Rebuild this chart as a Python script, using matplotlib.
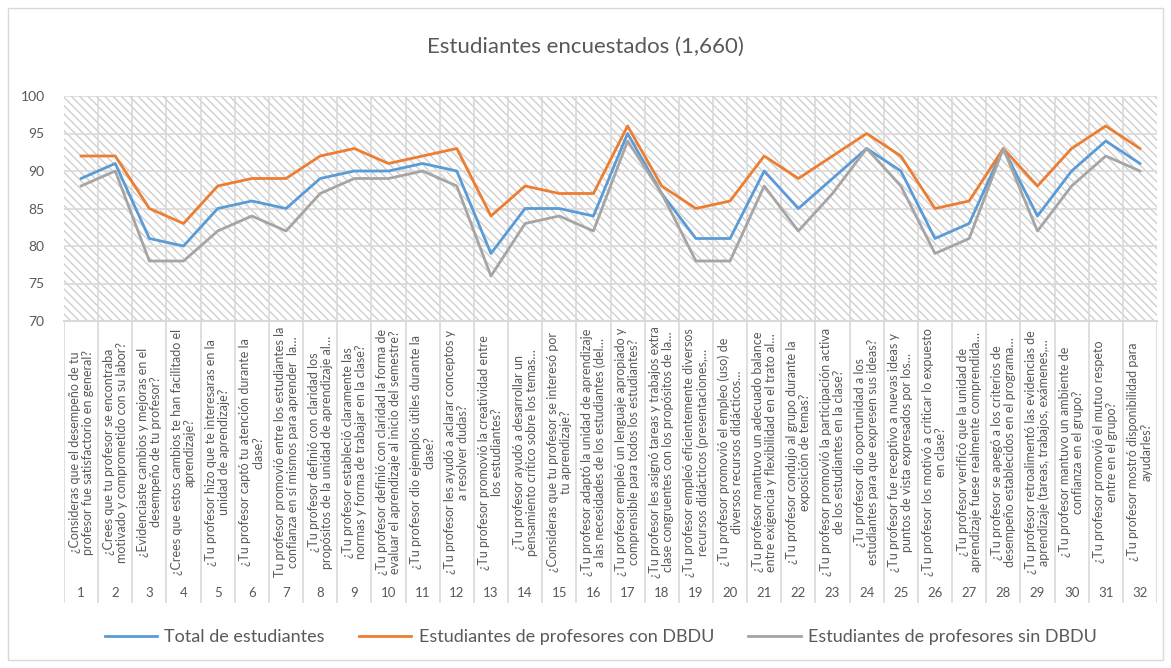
import matplotlib.pyplot as plt
from matplotlib.patches import Rectangle

plt.rcParams['font.family'] = ['Lato', 'DejaVu Sans']
plt.rcParams['hatch.linewidth'] = 1.0

# Datos
preguntas = [
    "¿Consideras que el desempeño de tu\nprofesor fue satisfactorio en general?",
    "¿Crees que tu profesor se encontraba\nmotivado y comprometido con su labor?",
    "¿Evidenciaste cambios y mejoras en el\ndesempeño de tu profesor?",
    "¿Crees que estos cambios te han facilitado el\naprendizaje?",
    "¿Tu profesor hizo que te interesaras en la\nunidad de aprendizaje?",
    "¿Tu profesor captó tu atención durante la\nclase?",
    "Tu profesor promovió entre los estudiantes la\nconfianza en sí mismos para aprender  la…",
    "¿Tu profesor definió con claridad los\npropósitos de la unidad de aprendizaje al…",
    "¿Tu profesor estableció claramente las\nnormas y forma de trabajar en la clase?",
    "¿Tu profesor definió con claridad la forma de\nevaluar el aprendizaje al inicio del semestre?",
    "¿Tu profesor dio ejemplos útiles durante la\nclase?",
    "¿Tu profesor les ayudó a aclarar conceptos y\na resolver dudas?",
    "¿Tu profesor promovió la creatividad entre\nlos estudiantes?",
    "¿Tu profesor ayudó a desarrollar un\npensamiento crítico sobre los temas…",
    "¿Consideras que tu profesor se interesó por\ntu aprendizaje?",
    "¿Tu profesor adaptó la unidad de aprendizaje\na las necesidades de los estudiantes (del…",
    "¿Tu profesor empleó un lenguaje apropiado y\ncomprensible para todos los estudiantes?",
    "¿Tu profesor les asignó tareas y trabajos extra\nclase congruentes con los propósitos de la…",
    "¿Tu profesor empleó eficientemente diversos\nrecursos didácticos (presentaciones,…",
    "¿Tu profesor promovió el empleo (uso) de\ndiversos recursos didácticos…",
    "¿Tu profesor mantuvo un adecuado balance\nentre exigencia y flexibilidad en el trato al…",
    "¿Tu profesor condujo al grupo durante la\nexposición de temas?",
    "¿Tu profesor promovió la participación activa\nde los estudiantes en la clase?",
    "¿Tu profesor dio oportunidad a los\nestudiantes para que expresen sus ideas?",
    "¿Tu profesor fue receptivo a nuevas ideas y\npuntos de vista expresados por los…",
    "¿Tu profesor los motivó a criticar lo expuesto\nen clase?",
    "¿Tu profesor verificó que la unidad de\naprendizaje fuese realmente comprendida…",
    "¿Tu profesor se apegó a los criterios de\ndesempeño establecidos en el programa…",
    "¿Tu profesor retroalimentó las evidencias de\naprendizaje (tareas, trabajos, exámenes,…",
    "¿Tu profesor mantuvo un ambiente de\nconfianza en el grupo?",
    "¿Tu profesor promovió el mutuo respeto\nentre en el grupo?",
    "¿Tu profesor mostró disponibilidad para\nayudarles?",
]
numeros = list(range(1, 33))

total = [89, 91, 81, 80, 85, 86, 85, 89, 90, 90, 91, 90, 79, 85, 85, 84,
         95, 87, 81, 81, 90, 85, 89, 93, 90, 81, 83, 93, 84, 90, 94, 91]
con_dbdu = [92, 92, 85, 83, 88, 89, 89, 92, 93, 91, 92, 93, 84, 88, 87, 87,
            96, 88, 85, 86, 92, 89, 92, 95, 92, 85, 86, 93, 88, 93, 96, 93]
sin_dbdu = [88, 90, 78, 78, 82, 84, 82, 87, 89, 89, 90, 88, 76, 83, 84, 82,
            94, 87, 78, 78, 88, 82, 87, 93, 88, 79, 81, 93, 82, 88, 92, 90]

texto = '#595959'
rejilla = '#d9d9d9'

fig = plt.figure(figsize=(11.71, 6.68), dpi=100)

# borde del area del grafico
fig.patches.append(Rectangle((8 / 1171, 8 / 668), 1 - 16 / 1171, 1 - 16 / 668,
                             transform=fig.transFigure, fill=False,
                             edgecolor=rejilla, lw=1))

ax = fig.add_axes([64 / 1171, 1 - 321 / 668, (1157 - 64) / 1171, 225 / 668])
ax.add_patch(Rectangle((0, 0), 1, 1, transform=ax.transAxes, facecolor='white',
                       edgecolor='#cfcfcf', hatch='\\\\\\\\', lw=0.01, zorder=0))

ax.plot(numeros, total, color='#5b9bd5', lw=2, label='Total de estudiantes', zorder=3)
ax.plot(numeros, con_dbdu, color='#ed7d31', lw=2,
        label='Estudiantes de profesores con DBDU', zorder=3)
ax.plot(numeros, sin_dbdu, color='#a5a5a5', lw=2,
        label='Estudiantes de profesores sin DBDU', zorder=3)

ax.set_xlim(0.5, 32.5)
ax.set_ylim(70, 100)
ax.set_yticks(range(70, 101, 5))
ax.set_xticks([n + 0.5 for n in numeros[:-1]], minor=True)
ax.set_xticks([])
ax.grid(axis='y', color=rejilla, lw=1.2, zorder=1)
ax.grid(axis='x', which='minor', color=rejilla, lw=1.2, zorder=1)
ax.tick_params(axis='y', length=0, labelsize=10, labelcolor=texto, pad=14)
ax.tick_params(axis='x', which='both', length=0)
for lado in ['top', 'right', 'left']:
    ax.spines[lado].set_visible(False)
ax.spines['bottom'].set_color(rejilla)
ax.spines['bottom'].set_linewidth(1.5)

# eje de categorias en dos niveles
axl = fig.add_axes([64 / 1171, 1 - 603 / 668, (1157 - 64) / 1171, 282 / 668], sharex=ax)
axl.set_ylim(0, 1)
axl.axis('off')
for n in numeros:
    axl.axvline(n - 0.5, color=rejilla, lw=1.2)
axl.axvline(numeros[-1] + 0.5, color=rejilla, lw=1.2)
for n, p in zip(numeros, preguntas):
    axl.text(n, 0.535, p, rotation=90, ha='center', va='center',
             multialignment='center', fontsize=9, color=texto, linespacing=1.1)
    axl.text(n, 0.035, str(n), ha='center', va='center', fontsize=9.5, color=texto)

fig.text(0.5, 1 - 47 / 668, 'Estudiantes encuestados (1,660)', ha='center',
         va='center', fontsize=16, color=texto)

fig.legend(loc='center', bbox_to_anchor=(0.513, 1 - 637 / 668), ncol=3,
           frameon=False, fontsize=13, handlelength=2.9, handletextpad=0.4,
           columnspacing=1.9, labelcolor=texto)

fig.savefig('out.png', dpi=100)
